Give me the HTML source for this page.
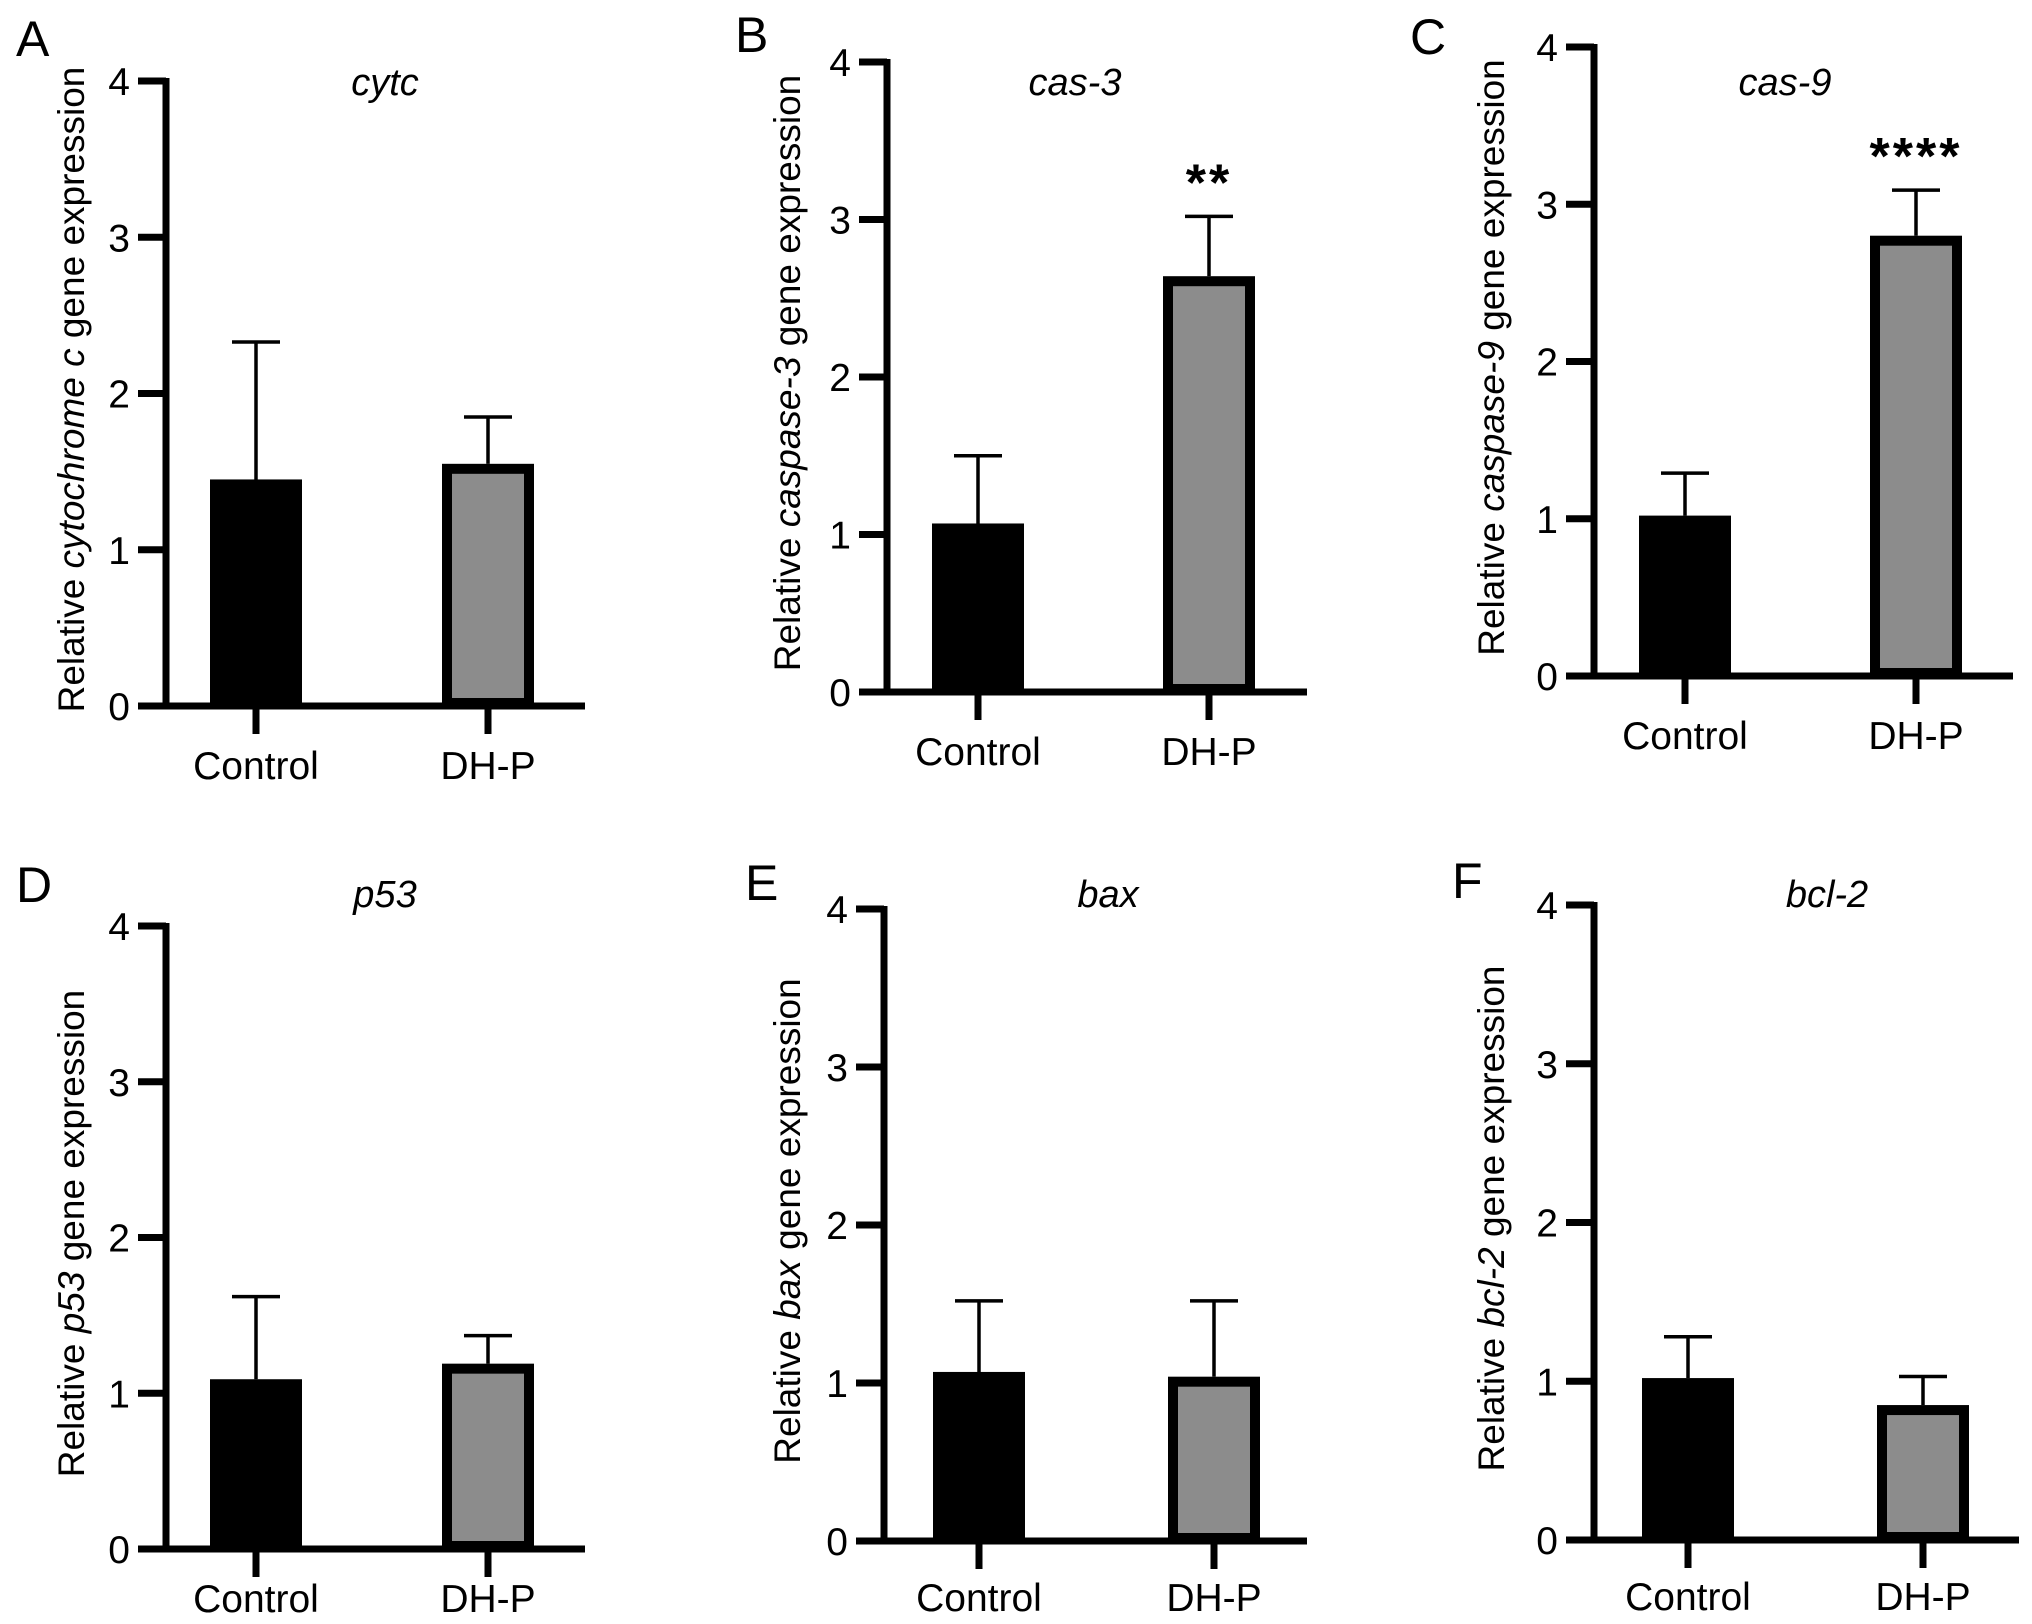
<!DOCTYPE html>
<html><head><meta charset="utf-8">
<style>
html,body{margin:0;padding:0;background:#fff;}
svg{display:block;font-family:"Liberation Sans",Arial,sans-serif;}
</style></head>
<body>
<svg id="fig" width="2032" height="1624" viewBox="0 0 2032 1624" xmlns="http://www.w3.org/2000/svg"></svg>
<script>
const categories = ["Control","DH-P"];
const yTicks = [0,1,2,3,4];
const panelLetters = ["A","B","C","D","E","F"];
const geneTitles = ["cytc","cas-3","cas-9","p53","bax","bcl-2"];
const yGenes = ["cytochrome c","caspase-3","caspase-9","p53","bax","bcl-2"];
const controlMeans = [1.45,1.07,1.02,1.09,1.07,1.02];
const controlErr   = [2.33,1.50,1.29,1.62,1.52,1.28];
const dhpMeans     = [1.55,2.64,2.80,1.19,1.04,0.85];
const dhpErr       = [1.85,3.02,3.09,1.37,1.52,1.03];
const signif       = ["","**","****","","",""];

// layout (pixel geometry, not data)
const layout = [
 {ax:166,top:81,base:706,right:585,c:[256,488],lx:16,ly:56,yt:84,tx:385,ty:95,lo:73},
 {ax:887,top:62,base:692,right:1307,c:[978,1209],lx:735,ly:52,yt:800,tx:1075,ty:95,lo:73},
 {ax:1594,top:47,base:676,right:2013,c:[1685,1916],lx:1410,ly:54,yt:1504,tx:1785,ty:95,lo:73},
 {ax:166,top:926,base:1549,right:585,c:[256,488],lx:16,ly:902,yt:84,tx:385,ty:907,lo:63},
 {ax:884,top:909,base:1541,right:1307,c:[979,1214],lx:745,ly:900,yt:800,tx:1108,ty:907,lo:70},
 {ax:1594,top:905,base:1540,right:2019,c:[1688,1923],lx:1452,ly:898,yt:1504,tx:1827,ty:907,lo:70}
];
const NS="http://www.w3.org/2000/svg";
const svg=document.getElementById('fig');
function mk(tag,attrs,parent){const e=document.createElementNS(NS,tag);for(const k in attrs)e.setAttribute(k,attrs[k]);(parent||svg).appendChild(e);return e;}

layout.forEach((L,i)=>{
  const g=mk('g',{});
  
  
  const y=v=>L.base-(v/4)*(L.base-L.top);
  const bw=92;
  const lt=mk('text',{x:L.lx,y:L.ly,'font-size':50},g);lt.textContent=panelLetters[i];
  
  
  const tt=mk('text',{x:L.tx,y:L.ty,'font-size':38,'font-style':'italic','text-anchor':'middle'},g);
  tt.textContent=geneTitles[i];
  
  
  const means=[controlMeans[i],dhpMeans[i]], errs=[controlErr[i],dhpErr[i]];
  means.forEach((m,j)=>{
    const cx=L.c[j];
    const el=mk('line',{x1:cx,x2:cx,y1:y(m),y2:y(errs[j]),stroke:'#000','stroke-width':3.5},g);
    
    
    const cap=mk('line',{x1:cx-24,x2:cx+24,y1:y(errs[j]),y2:y(errs[j]),stroke:'#000','stroke-width':3.5},g);
    
    
    let r;
    if(j==0){ r=mk('rect',{x:cx-bw/2,y:y(m),width:bw,height:L.base-y(m),fill:'#000'},g); }
    else { r=mk('rect',{x:cx-bw/2+5,y:y(m)+5,width:bw-10,height:Math.max(0,L.base-y(m)-8),fill:'#8c8c8c',stroke:'#000','stroke-width':10},g); }
    
    
    const xt=mk('line',{x1:cx,x2:cx,y1:L.base,y2:L.base+28,stroke:'#000','stroke-width':7},g);
    
    
    const xl=mk('text',{x:cx,y:L.base+L.lo,'font-size':39,'text-anchor':'middle'},g);xl.textContent=categories[j];
    
    
  });
  if(signif[i]){
    const st=mk('text',{x:L.c[1],y:y(dhpErr[i])-16,'font-size':52,'font-weight':'bold','text-anchor':'middle','letter-spacing':'3'},g);
    st.textContent=signif[i];
    
    
  }
  const ya=mk('line',{x1:L.ax,x2:L.ax,y1:L.top-3,y2:L.base+3,stroke:'#000','stroke-width':7},g);
  
  
  const xa=mk('line',{x1:L.ax-28,x2:L.right,y1:L.base,y2:L.base,stroke:'#000','stroke-width':7},g);
  
  
  yTicks.forEach(t=>{
    const tk=mk('line',{x1:L.ax-28,x2:L.ax,y1:y(t),y2:y(t),stroke:'#000','stroke-width':7},g);
    
    
    const tl=mk('text',{x:L.ax-36,y:y(t)+14,'font-size':39,'text-anchor':'end'},g);tl.textContent=t;
    
    
  });
  const cy=(L.top+L.base)/2-4;
  const yt=mk('text',{x:L.yt,y:cy,'font-size':37,'text-anchor':'middle',transform:`rotate(-90 ${L.yt} ${cy})`},g);
  
  
  const a=mk('tspan',{},yt);a.textContent='Relative ';
  const b=mk('tspan',{'font-style':'italic'},yt);b.textContent=yGenes[i];
  const c=mk('tspan',{},yt);c.textContent=' gene expression';
});
</script>
</body></html>
